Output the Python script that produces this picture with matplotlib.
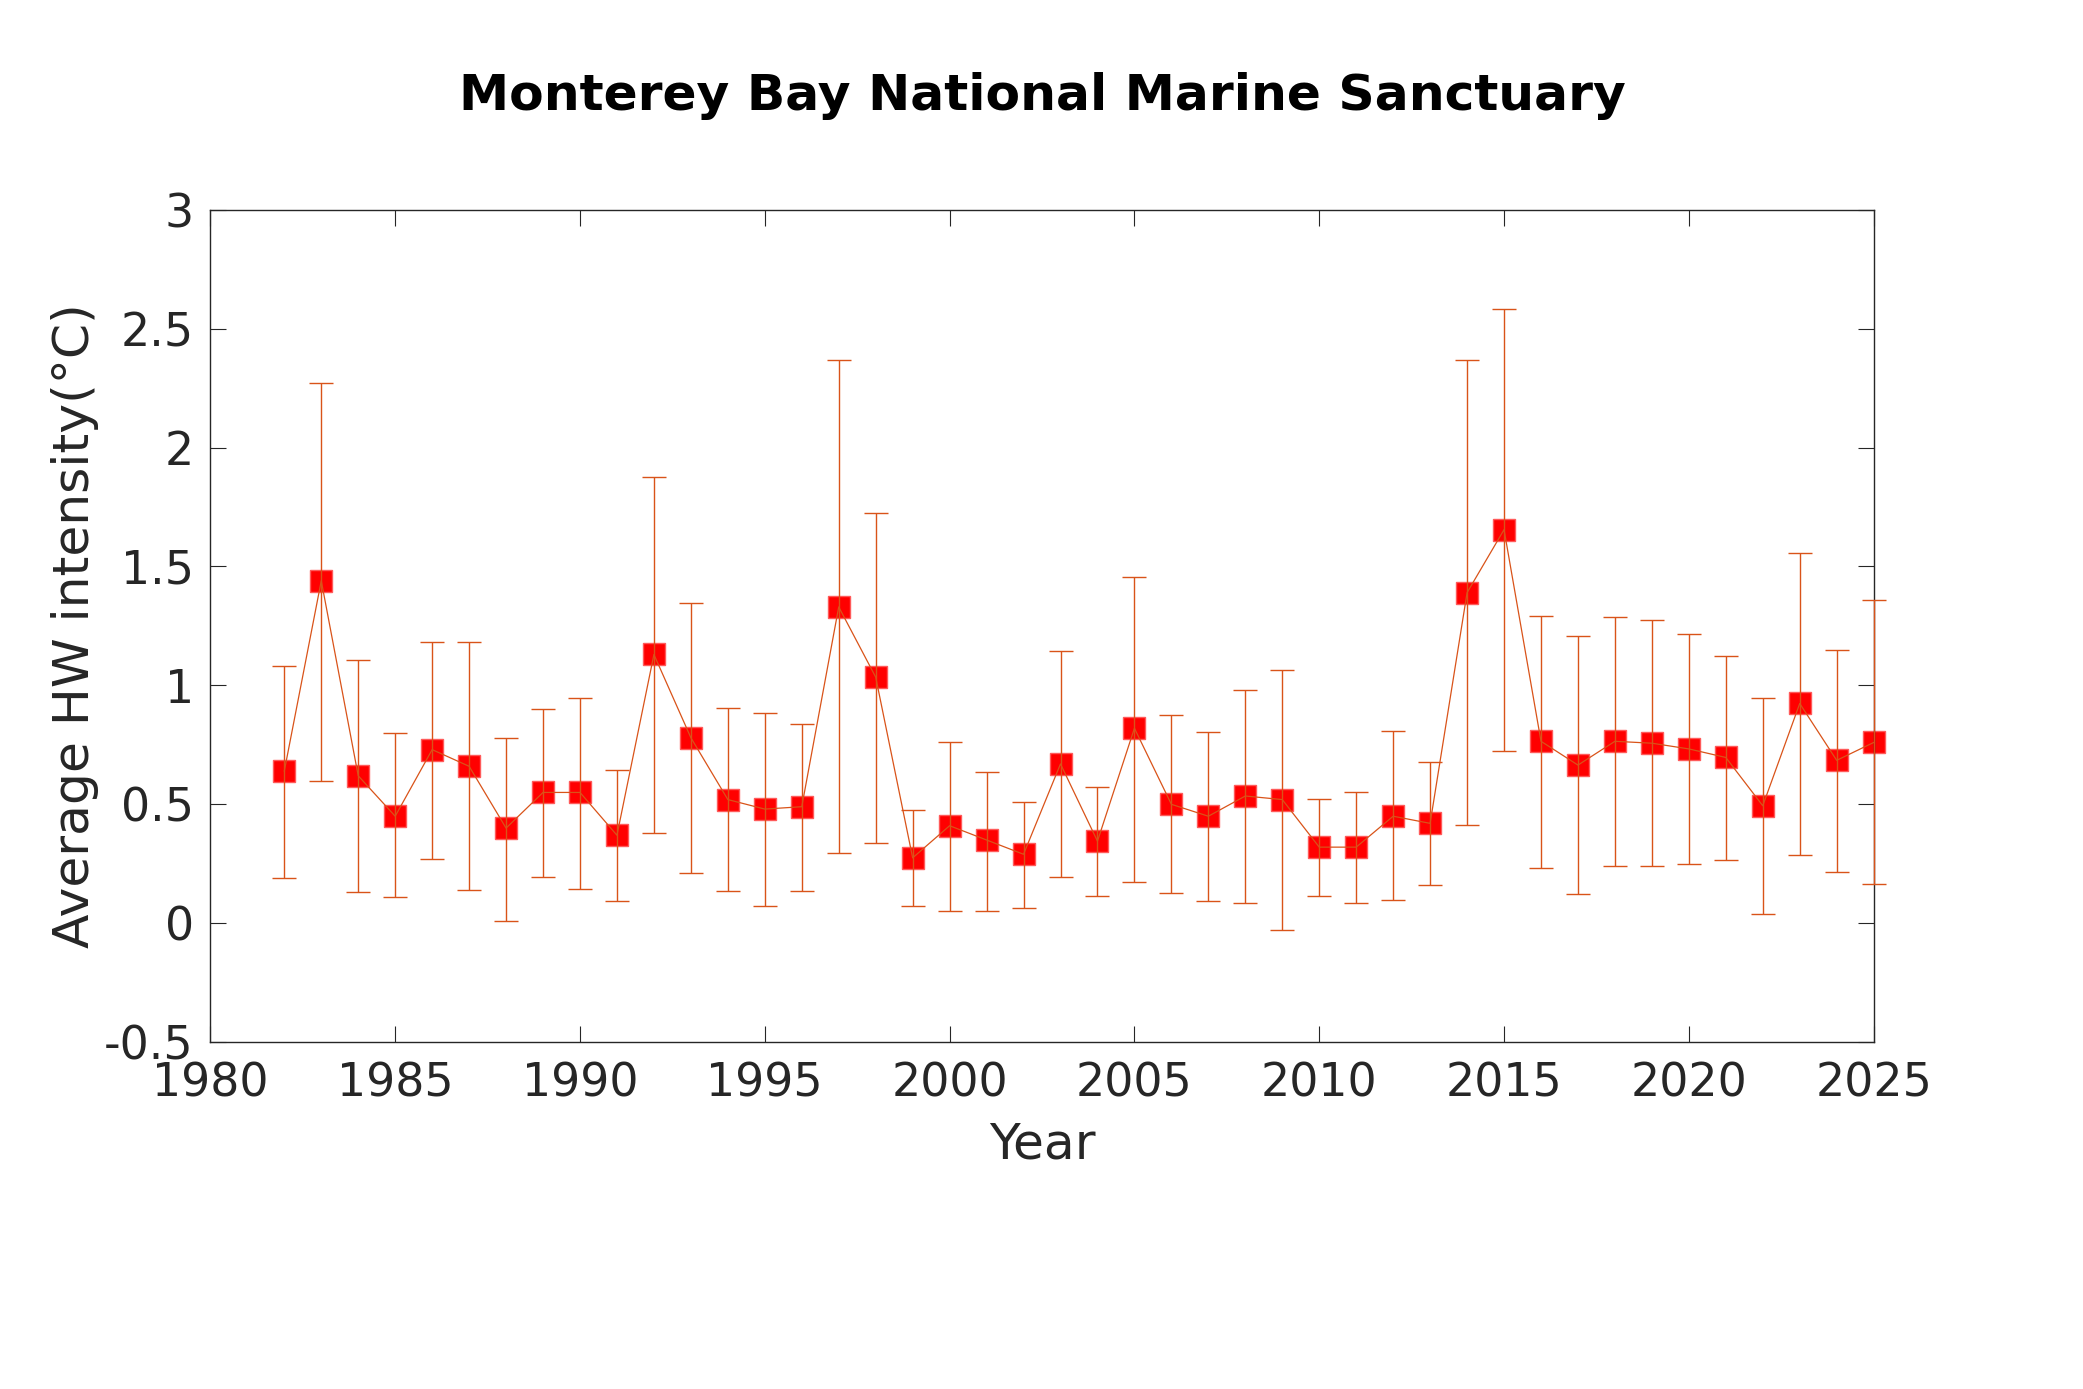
import numpy as np
import matplotlib
matplotlib.use('Agg')
from matplotlib import pyplot as plt

# values
years = np.arange(1982, 2026)
hw_mean = [0.64, 1.44, 0.62, 0.45, 0.73, 0.66, 0.40, 0.55, 0.55, 0.37,
           1.13, 0.78, 0.52, 0.48, 0.49, 1.33, 1.035, 0.275, 0.41, 0.35,
           0.29, 0.67, 0.345, 0.82, 0.50, 0.45, 0.535, 0.52, 0.32, 0.32,
           0.45, 0.42, 1.39, 1.655, 0.765, 0.665, 0.765, 0.757, 0.733, 0.697,
           0.494, 0.924, 0.685, 0.76]
hw_low = [0.19, 0.60, 0.13, 0.11, 0.27, 0.14, 0.01, 0.195, 0.145, 0.094,
          0.38, 0.21, 0.135, 0.072, 0.137, 0.294, 0.338, 0.072, 0.053, 0.053,
          0.063, 0.193, 0.116, 0.174, 0.128, 0.094, 0.087, -0.027, 0.113, 0.087,
          0.099, 0.159, 0.412, 0.726, 0.234, 0.121, 0.239, 0.241, 0.248, 0.265,
          0.039, 0.289, 0.217, 0.164]
hw_high = [1.083, 2.272, 1.105, 0.80, 1.182, 1.184, 0.779, 0.90, 0.948, 0.644,
           1.877, 1.348, 0.907, 0.883, 0.837, 2.369, 1.727, 0.475, 0.76, 0.637,
           0.509, 1.146, 0.574, 1.457, 0.876, 0.806, 0.982, 1.066, 0.523, 0.552,
           0.808, 0.678, 2.369, 2.583, 1.293, 1.208, 1.288, 1.276, 1.216, 1.124,
           0.945, 1.558, 1.15, 1.358]

xticks = np.arange(1980, 2026, 5)
yticks = np.arange(-0.5, 3.01, 0.5)

plt.rcParams['font.family'] = 'DejaVu Sans'
plt.rcParams['axes.unicode_minus'] = False

hw_mean = np.array(hw_mean)
yerr = [hw_mean - np.array(hw_low), np.array(hw_high) - hw_mean]

fig = plt.figure(figsize=(20.83, 13.89), dpi=100)
ax = fig.add_axes([0.101, 0.2497, 0.7985, 0.5993])

ax.plot(years, hw_mean, 's', ms=15.5, mfc='red', mec='#FF5A5A', mew=1.0,
        zorder=2, clip_on=False)
ax.errorbar(years, hw_mean, yerr=yerr, color='#D95319', lw=0.9, elinewidth=1.0,
            capsize=8.5, capthick=1.0, zorder=3, clip_on=False)

ax.set_xlim(1980, 2025)
ax.set_ylim(-0.5, 3)
ax.set_xticks(xticks)
ax.set_yticks(yticks)
ax.set_yticklabels(['%g' % v for v in yticks])

grey = '#262626'
for s in ax.spines.values():
    s.set_color(grey)
    s.set_linewidth(1.0)
ax.tick_params(direction='in', top=True, right=True, length=11.5, width=0.8,
               colors=grey, labelsize=33)
ax.tick_params(axis='x', pad=14)
ax.tick_params(axis='y', pad=12)

ax.set_xlabel('Year', fontsize=36.3, color=grey, labelpad=10)
ax.set_ylabel('Average HW intensity(°C)', fontsize=36.3, color=grey, labelpad=4)
ax.set_title('Monterey Bay National Marine Sanctuary', fontsize=36.3,
             fontweight='bold', pad=72)

fig.savefig('out.png', dpi=100)
